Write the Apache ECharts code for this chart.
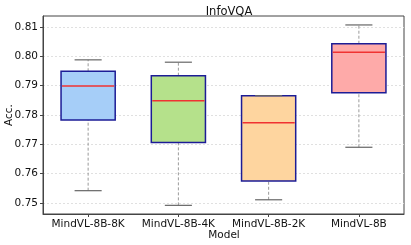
<!DOCTYPE html>
<html><head><meta charset="utf-8">
<script src="https://cdn.jsdelivr.net/npm/echarts@6/dist/echarts.min.js"></script>
<style>html,body{margin:0;padding:0;background:#fff}#c{width:411px;height:245px}</style>
</head><body><div id="c"></div>
<script>
var categories = ['MindVL-8B-8K', 'MindVL-8B-4K', 'MindVL-8B-2K', 'MindVL-8B'];
var lows    = [0.7542, 0.7492, 0.7511, 0.7690];
var q1s     = [0.7783, 0.7706, 0.7575, 0.7876];
var medians = [0.7899, 0.7849, 0.7774, 0.8014];
var q3s     = [0.7949, 0.7934, 0.7866, 0.8043];
var highs   = [0.7988, 0.7980, 0.7866, 0.8107];
var yTicks  = [0.75, 0.76, 0.77, 0.78, 0.79, 0.80, 0.81];
var fills   = ['#a6cef8', '#b5e18b', '#fed59f', '#feaaa9'];

var data = categories.map(function (c, i) { return [i, lows[i], q1s[i], medians[i], q3s[i], highs[i]]; });
var font = 'DejaVu Sans';

var chart = echarts.init(document.getElementById('c'), null, {renderer: 'canvas'});
chart.setOption({
  animation: false,
  backgroundColor: '#fff',
  title: {text: 'InfoVQA', left: 224, textAlign: 'center', top: 1,
    textStyle: {fontFamily: font, fontSize: 11.5, fontWeight: 'normal', color: '#111'}},
  graphic: [
    {type: 'text', x: 9, y: 115, rotation: Math.PI / 2,
      style: {text: 'Acc.', fontFamily: font, fontSize: 10.5, fill: '#111', align: 'center', verticalAlign: 'middle'}},
    {type: 'text', x: 224, y: 235,
      style: {text: 'Model', fontFamily: font, fontSize: 10.5, fill: '#111', align: 'center', verticalAlign: 'middle'}}
  ],
  grid: {left: 43, right: 7, top: 16, bottom: 31, containLabel: false, outerBoundsMode: 'none',
    show: true, borderColor: '#444', borderWidth: 1, backgroundColor: '#fff'},
  xAxis: {type: 'category', data: categories, boundaryGap: true,
    axisLine: {show: true, lineStyle: {color: '#444', width: 1}},
    axisTick: {show: true, alignWithLabel: true, length: 3, lineStyle: {color: '#444'}},
    axisLabel: {fontFamily: font, fontSize: 10.5, color: '#111', margin: 5, interval: 0},
    splitLine: {show: false}},
  yAxis: {type: 'value', min: 0.74625, max: 0.81375,
    axisLine: {show: true, lineStyle: {color: '#444', width: 1}},
    axisTick: {show: true, length: 3, customValues: yTicks, lineStyle: {color: '#444'}},
    axisLabel: {fontFamily: font, fontSize: 10.5, color: '#111', margin: 5, customValues: yTicks,
      formatter: function (v) { return v.toFixed(2); }},
    splitLine: {show: true, customValues: yTicks, lineStyle: {color: '#d8d8d8', type: [2, 2], width: 0.8}}},
  series: [{
    type: 'custom',
    encode: {x: 0, y: [1, 2, 3, 4, 5]},
    data: data,
    z: 5,
    renderItem: function (params, api) {
      var i = api.value(0);
      var band = api.size([1, 0])[0];
      var bw = band * 0.6, cw = bw / 2;
      var pLow = api.coord([i, api.value(1)]);
      var pQ1 = api.coord([i, api.value(2)]);
      var pMed = api.coord([i, api.value(3)]);
      var pQ3 = api.coord([i, api.value(4)]);
      var pHigh = api.coord([i, api.value(5)]);
      var x = pQ1[0];
      var dash = {stroke: '#9a9a9a', lineWidth: 1, lineDash: [3, 2]};
      var cap = {stroke: '#666', lineWidth: 1.2};
      return {type: 'group', children: [
        {type: 'line', shape: {x1: x, y1: pLow[1], x2: x, y2: pQ1[1]}, style: dash},
        {type: 'line', shape: {x1: x, y1: pQ3[1], x2: x, y2: pHigh[1]}, style: dash},
        {type: 'rect', shape: {x: x - bw / 2, y: pQ3[1], width: bw, height: pQ1[1] - pQ3[1]},
          style: {fill: fills[i], stroke: '#1c1c96', lineWidth: 1.5}},
        {type: 'line', shape: {x1: x - bw / 2 + 1, y1: pMed[1], x2: x + bw / 2 - 1, y2: pMed[1]},
          style: {stroke: '#f03232', lineWidth: 1.5}},
        {type: 'line', shape: {x1: x - cw / 2, y1: pLow[1], x2: x + cw / 2, y2: pLow[1]}, style: cap},
        {type: 'line', shape: {x1: x - cw / 2, y1: pHigh[1], x2: x + cw / 2, y2: pHigh[1]}, style: cap}
      ]};
    }
  }]
});
</script></body></html>
